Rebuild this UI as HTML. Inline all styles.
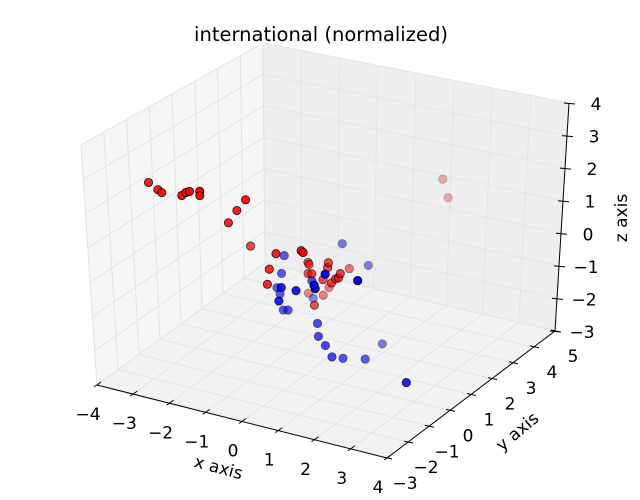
<!DOCTYPE html>
<html><head><meta charset="utf-8">
<style>
html,body{margin:0;padding:0;background:#fff;}
svg{display:block;font-family:"DejaVu Sans","Liberation Sans",sans-serif;}
</style></head>
<body>
<svg id="chart" width="640" height="500" viewBox="0 0 640 500" xmlns="http://www.w3.org/2000/svg">
<rect width="640" height="500" fill="#fff"/>
<text x="321" y="41" text-anchor="middle" font-size="19.5" fill="#000">international (normalized)</text>
<g id="panes"></g>
<g id="axes"></g>
<g id="points"></g>
<text x="0" y="0" transform="translate(217,473) rotate(15)" text-anchor="middle" font-size="17">x axis</text>
<text x="0" y="0" transform="translate(521,436) rotate(-40)" text-anchor="middle" font-size="17">y axis</text>
<text x="0" y="0" transform="translate(627,218) rotate(-90)" text-anchor="middle" font-size="17">z axis</text>
</svg>
<script>
const xTicks=[-4,-3,-2,-1,0,1,2,3,4];
const yTicks=[-3,-2,-1,0,1,2,3,4,5];
const zTicks=[-3,-2,-1,0,1,2,3,4];
const redX=[-2.26,-2.02,-1.92,-1.39,-1.28,-1.18,-0.91,-0.91,-0.79,-0.55,-0.31,-0.82,1.36,1.52,0.16,0.84,0.89,0.12,0.15,0.12,0.22,-0.03,-0.09,-0.76,0.28,-0.36,-0.2,0.65,0.67,0.75,0.86,0.94,0.99,0.35,0.52];
const redY=[-3,-3,-3,-3,-3,-3,-3,-3,-2,-2,-2,-1,4,4,-1.5,-1.5,-1.5,0,0,0,0,-1.5,-1.5,1.5,0,1.5,1.5,0,0,0,0,0,0,1.5,0];
const redZ=[3.34,3.19,3.13,3.18,3.29,3.35,3.42,3.3,2.14,2.56,2.93,1.04,1.46,0.93,1.27,1.53,1.49,0.37,0.32,0.04,0.06,0.77,0.31,-1.44,-0.86,-1.4,-1.12,0.35,0.5,-0.08,0.07,0.12,0.26,-0.41,-0.04];
const blueX=[-0.52,-0.6,-0.73,0.28,-0.65,0.21,-0.57,-0.44,0.68,1.47,1.2,0.22,-0.63,1.47,0.16,0.57,2.94,0.36,0.38,0.57,0.75,0.76,1.08,0.97,2.79];
const blueY=[0,0,0,-1.5,0,-1.5,0,0,-1.5,-2,-1.5,0,1.5,-1.5,1.5,2,-2.5,0,0,0,0,0.5,1,2,0];
const blueZ=[0.41,-0.14,-0.6,0.31,-0.76,-0.1,-1.22,-1.19,0.32,0.89,0.51,-0.15,-1.56,1.0,0.29,-0.48,1.6,-1.38,-1.76,-1.98,-2.27,-2.54,-2.71,-2.75,-2.5];

const XMIN=-4,XMAX=4,YMIN=-3,YMAX=5,ZMIN=-3,ZMAX=4;
const CORN={"000":[97,385],"100":[387,458],"110":[555,331],"010":[265,263],
 "001":[81,145],"101":[386,213],"111":[569,103],"011":[263,43]};
function proj(x,y,z){
  const u=(x-XMIN)/(XMAX-XMIN),v=(y-YMIN)/(YMAX-YMIN),w=(z-ZMIN)/(ZMAX-ZMIN);
  let sx=0,sy=0;
  for(const a of [0,1])for(const b of [0,1])for(const c of [0,1]){
    const k=(a?u:1-u)*(b?v:1-v)*(c?w:1-w);
    const p=CORN[""+a+b+c];sx+=k*p[0];sy+=k*p[1];
  }
  return [sx,sy];
}
const NS="http://www.w3.org/2000/svg";
function mk(tag,attrs,parent){const e=document.createElementNS(NS,tag);for(const k in attrs)e.setAttribute(k,attrs[k]);parent.appendChild(e);return e;}
const panes=document.getElementById('panes');
function poly(pts,fill,name){
  const e=mk('polygon',{points:pts.map(p=>p.join(',')).join(' '),fill:fill,stroke:'#e8e8e8','stroke-width':0.8},panes);
  
  
}
poly([proj(XMIN,YMIN,ZMIN),proj(XMIN,YMAX,ZMIN),proj(XMIN,YMAX,ZMAX),proj(XMIN,YMIN,ZMAX)],'#f6f6f6','left-pane');
poly([proj(XMIN,YMAX,ZMIN),proj(XMAX,YMAX,ZMIN),proj(XMAX,YMAX,ZMAX),proj(XMIN,YMAX,ZMAX)],'#eeeeee','back-pane');
poly([proj(XMIN,YMIN,ZMIN),proj(XMAX,YMIN,ZMIN),proj(XMAX,YMAX,ZMIN),proj(XMIN,YMAX,ZMIN)],'#f2f2f2','floor-pane');
function gl(a,b,name){
  const e=mk('line',{x1:a[0],y1:a[1],x2:b[0],y2:b[1],stroke:'#e3e3e3','stroke-width':1},panes);
  
  
}
xTicks.forEach(t=>{gl(proj(t,YMIN,ZMIN),proj(t,YMAX,ZMIN),'grid-line-x');gl(proj(t,YMAX,ZMIN),proj(t,YMAX,ZMAX),'grid-line-x');});
yTicks.forEach(t=>{gl(proj(XMIN,t,ZMIN),proj(XMAX,t,ZMIN),'grid-line-y');gl(proj(XMIN,t,ZMIN),proj(XMIN,t,ZMAX),'grid-line-y');});
zTicks.forEach(t=>{gl(proj(XMIN,YMIN,t),proj(XMIN,YMAX,t),'grid-line-z');gl(proj(XMIN,YMAX,t),proj(XMAX,YMAX,t),'grid-line-z');});

const axes=document.getElementById('axes');
function aline(a,b,name){
  const e=mk('line',{x1:a[0],y1:a[1],x2:b[0],y2:b[1],stroke:'#000','stroke-width':1},axes);
  
  
}
function lbl(x,y,s,name){
  const e=mk('text',{x:x,y:y,'text-anchor':'middle','font-size':17,fill:'#000'},axes);
  e.textContent=s;
  
  
}
function fmt(t){return t<0?'\u2212'+(-t):''+t;}
aline(proj(XMIN,YMIN,ZMIN),proj(XMAX,YMIN,ZMIN),'x-axis-line');
aline(proj(XMAX,YMIN,ZMIN),proj(XMAX,YMAX,ZMIN),'y-axis-line');
aline(proj(XMAX,YMAX,ZMIN),proj(XMAX,YMAX,ZMAX),'z-axis-line');
xTicks.forEach(t=>{const p=proj(t,YMIN,ZMIN);aline([p[0]-3,p[1]+2],[p[0]+4,p[1]-3],'x-tick');lbl(p[0]-9,p[1]+35,fmt(t),'x-tick-label');});
yTicks.forEach(t=>{const p=proj(XMAX,t,ZMIN);aline([p[0]-4,p[1]-1],[p[0]+5,p[1]+1],'y-tick');lbl(p[0]+18,p[1]+31,fmt(t),'y-tick-label');});
zTicks.forEach(t=>{const p=proj(XMAX,YMAX,t);aline([p[0]-5,p[1]],[p[0]+6,p[1]+1],'z-tick');lbl(p[0]+27,p[1]+7,fmt(t),'z-tick-label');});

const all=[];
redX.forEach((x,i)=>all.push({x:x,y:redY[i],z:redZ[i],c:'#ff0000',s:'red'}));
blueX.forEach((x,i)=>all.push({x:x,y:blueY[i],z:blueZ[i],c:'#0000ff',s:'blue'}));
all.forEach(p=>p.d=0.5*p.x-0.866*p.y);
const dmin=Math.min(...all.map(p=>p.d)),dmax=Math.max(...all.map(p=>p.d));
all.sort((a,b)=>a.d-b.d);
const pg=document.getElementById('points');
all.forEach(p=>{
  const s=proj(p.x,p.y,p.z);
  const a=Math.min(1,0.3+0.7*(p.d-dmin)/((dmax-dmin)*0.8));
  const e=mk('circle',{cx:s[0].toFixed(1),cy:s[1].toFixed(1),r:4.1,fill:p.c,stroke:'#000','stroke-width':0.9,opacity:a.toFixed(2)},pg);
  
  
});
</script>
</body></html>
